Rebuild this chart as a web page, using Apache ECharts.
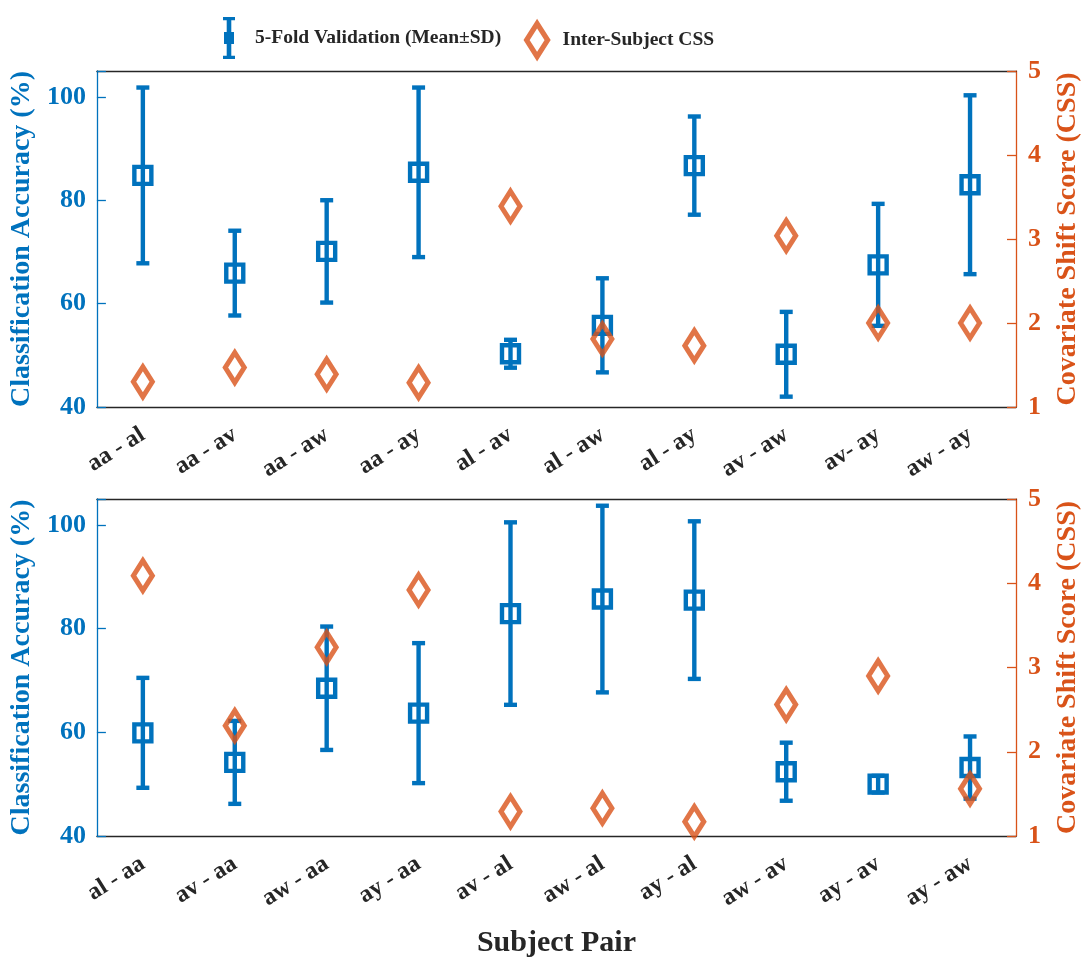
<!DOCTYPE html>
<html>
<head>
<meta charset="utf-8">
<script src="https://cdn.jsdelivr.net/npm/echarts@6/dist/echarts.min.js"></script>
<style>
  html, body { margin: 0; padding: 0; background: #fff; }
  #chart { width: 1090px; height: 960px; }
</style>
</head>
<body>
<div id="chart"></div>
<script>
// Subject pairs for the two panels
const pairsTop = ['aa - al', 'aa - av', 'aa - aw', 'aa - ay', 'al - av', 'al - aw', 'al - ay', 'av - aw', 'av- ay', 'aw - ay'];
const pairsBottom = ['al - aa', 'av - aa', 'aw - aa', 'ay - aa', 'av - al', 'aw - al', 'ay - al', 'aw - av', 'ay - av', 'ay - aw'];

// 5-fold validation accuracy (%): mean and standard deviation
const accMeanTop = [84.8, 65.9, 70.1, 85.4, 50.3, 55.8, 86.7, 50.2, 67.5, 83.0];
const accSdTop = [17.0, 8.2, 9.9, 16.4, 2.7, 9.1, 9.5, 8.2, 11.8, 17.3];
const accMeanBottom = [59.9, 54.2, 68.5, 63.7, 82.9, 85.7, 85.5, 52.4, 50.0, 53.2];
const accSdBottom = [10.6, 8.0, 11.9, 13.5, 17.6, 18.0, 15.2, 5.6, 1.6, 6.0];

// Inter-subject covariate shift score
const cssTop = [1.30, 1.47, 1.39, 1.29, 3.39, 1.81, 1.73, 3.04, 2.00, 2.00];
const cssBottom = [4.09, 2.31, 3.24, 3.92, 1.29, 1.33, 1.17, 2.56, 2.90, 1.56];

// Axis ranges and ticks
const accMin = 40, accMax = 105, accStep = 20;
const cssMin = 1, cssMax = 5, cssStep = 1;

const BLUE = '#0072BD';
const ORANGE = '#D95319';
const DARK = '#262626';
const FONT = '"Liberation Serif", "Times New Roman", serif';

const NAME_ACC = '5-Fold Validation (Mean±SD)';
const NAME_CSS = 'Inter-Subject CSS';

const chart = echarts.init(document.getElementById('chart'), null, { renderer: 'canvas' });

// Error bar with caps and a hollow square at the mean
function renderErrorBar(params, api) {
  const x = api.value(0);
  const m = api.value(1);
  const s = api.value(2);
  const pTop = api.coord([x, m + s]);
  const pMid = api.coord([x, m]);
  const pBot = api.coord([x, m - s]);
  const cap = 6.5;
  const half = 8.5;
  const style = { stroke: BLUE, lineWidth: 4.4, fill: null };
  return {
    type: 'group',
    children: [
      { type: 'line', shape: { x1: pTop[0], y1: pTop[1], x2: pBot[0], y2: pBot[1] }, style: style },
      { type: 'line', shape: { x1: pTop[0] - cap, y1: pTop[1], x2: pTop[0] + cap, y2: pTop[1] }, style: style },
      { type: 'line', shape: { x1: pBot[0] - cap, y1: pBot[1], x2: pBot[0] + cap, y2: pBot[1] }, style: style },
      { type: 'rect', shape: { x: pMid[0] - half, y: pMid[1] - half, width: 2 * half, height: 2 * half }, style: style }
    ]
  };
}

function panelAxes(gridIndex, cats, showName) {
  const xAxes = [
    {
      type: 'category', gridIndex: gridIndex, data: cats, position: 'bottom',
      boundaryGap: true,
      axisLine: { lineStyle: { color: DARK, width: 1.3 } },
      axisTick: { inside: true, alignWithLabel: true, length: 9, lineStyle: { color: DARK, width: 1.3 } },
      axisLabel: {
        rotate: 32, margin: 26, color: DARK, fontFamily: FONT, fontWeight: 'bold', fontSize: 24, interval: 0
      },
      name: showName ? 'Subject Pair' : '',
      nameLocation: 'middle', nameGap: 92,
      nameTextStyle: { color: DARK, fontFamily: FONT, fontWeight: 'bold', fontSize: 30 }
    },
    {
      type: 'category', gridIndex: gridIndex, data: cats, position: 'top',
      boundaryGap: true,
      axisLine: { lineStyle: { color: DARK, width: 1.3 } },
      axisTick: { inside: true, alignWithLabel: true, length: 9, lineStyle: { color: DARK, width: 1.3 } },
      axisLabel: { show: false }
    }
  ];
  const yAxes = [
    {
      type: 'value', gridIndex: gridIndex, position: 'left',
      min: accMin, max: accMax, interval: accStep,
      splitLine: { show: false },
      axisLine: { show: true, lineStyle: { color: BLUE, width: 1.3 } },
      axisTick: { show: true, inside: true, length: 9, lineStyle: { color: BLUE, width: 1.3 } },
      axisLabel: {
        margin: 11, color: BLUE, fontFamily: FONT, fontWeight: 'bold', fontSize: 26,
        formatter: v => (v % accStep === 0 ? String(v) : '')
      },
      name: 'Classification Accuracy (%)',
      nameLocation: 'middle', nameGap: 60, nameRotate: 90,
      nameTextStyle: { color: BLUE, fontFamily: FONT, fontWeight: 'bold', fontSize: 28 }
    },
    {
      type: 'value', gridIndex: gridIndex, position: 'right',
      min: cssMin, max: cssMax, interval: cssStep,
      splitLine: { show: false },
      axisLine: { show: true, lineStyle: { color: ORANGE, width: 1.3 } },
      axisTick: { show: true, inside: true, length: 9, lineStyle: { color: ORANGE, width: 1.3 } },
      axisLabel: { margin: 12, color: ORANGE, fontFamily: FONT, fontWeight: 'bold', fontSize: 26 },
      name: 'Covariate Shift Score (CSS)',
      nameLocation: 'middle', nameGap: 38, nameRotate: 90,
      nameTextStyle: { color: ORANGE, fontFamily: FONT, fontWeight: 'bold', fontSize: 28 }
    }
  ];
  return { xAxes, yAxes };
}

const upperAxes = panelAxes(0, pairsTop, false);
const lowerAxes = panelAxes(1, pairsBottom, true);

function barData(means, sds) {
  return means.map((m, i) => [i, m, sds[i]]);
}
function cssData(vals) {
  return vals.map((v, i) => [i, v]);
}

function panelSeries(xIdx, yIdx, means, sds, css) {
  return [
    {
      name: NAME_ACC, type: 'custom', xAxisIndex: xIdx, yAxisIndex: yIdx,
      renderItem: renderErrorBar, data: barData(means, sds),
      encode: { x: 0, y: 1 }, itemStyle: { color: BLUE }, z: 2
    },
    {
      name: NAME_CSS, type: 'scatter', xAxisIndex: xIdx, yAxisIndex: yIdx + 1,
      data: cssData(css), symbol: 'diamond', symbolSize: [19, 30],
      itemStyle: { color: 'rgba(0,0,0,0)', borderColor: ORANGE, borderWidth: 5.2 },
      emphasis: { disabled: true }, z: 3
    }
  ];
}

const errIcon = 'path://M0,0H12V3.2H8.3V15H11V27H8.3V38.8H12V42H0V38.8H3.7V27H1V15H3.7V3.2H0Z';

const option = {
  backgroundColor: '#fff',
  animation: false,
  legend: [
    {
      data: [{ name: NAME_ACC, icon: errIcon }],
      left: 218, top: 12, itemWidth: 26, itemHeight: 42,
      textStyle: { color: DARK, fontFamily: FONT, fontWeight: 'bold', fontSize: 19.5, padding: [0, 0, 0, 8] }
    },
    {
      data: [{ name: NAME_CSS, icon: 'diamond', itemStyle: { color: 'rgba(0,0,0,0)', borderColor: ORANGE, borderWidth: 5.2 } }],
      left: 519, top: 16, itemWidth: 21, itemHeight: 33,
      textStyle: { color: DARK, fontFamily: FONT, fontWeight: 'bold', fontSize: 19.5, padding: [0, 0, 0, 10] }
    }
  ],
  grid: [
    { left: 95, right: 67, top: 71, height: 336 },
    { left: 95, right: 67, top: 499, height: 337 }
  ],
  xAxis: [...upperAxes.xAxes, ...lowerAxes.xAxes],
  yAxis: [...upperAxes.yAxes, ...lowerAxes.yAxes],
  series: [
    ...panelSeries(0, 0, accMeanTop, accSdTop, cssTop),
    ...panelSeries(2, 2, accMeanBottom, accSdBottom, cssBottom)
  ]
};

chart.setOption(option);
</script>
</body>
</html>
